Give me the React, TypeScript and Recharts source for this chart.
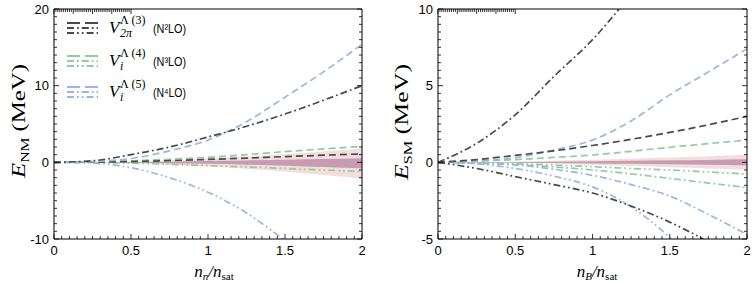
import React from "react";
import { ComposedChart, Line, Area, XAxis, YAxis } from "recharts";

// density grid n / n_sat
const density = [0, 0.25, 0.5, 0.75, 1, 1.25, 1.5, 1.75, 2];

const xMajorTicks = [0, 0.5, 1, 1.5, 2];
const nmMajorTicks = [-10, 0, 10, 20];
const smMajorTicks = [-5, 0, 5, 10];

// neutron matter, E_NM (MeV)
const nmN2Dashed = [0, 0.03, 0.1, 0.22, 0.38, 0.55, 0.75, 0.93, 1.1];
const nmN2DashDot = [0, 0.2, 1.0, 2.0, 3.3, 4.7, 6.3, 8.1, 10.0];
const nmN3Dashed = [0, 0.05, 0.2, 0.4, 0.65, 1.0, 1.4, 1.75, 2.1];
const nmN3DashDotDot = [0, -0.03, -0.1, -0.25, -0.43, -0.6, -0.8, -1.0, -1.2];
const nmN4Dashed = [0, 0.1, 0.5, 1.5, 2.9, 5.3, 8.5, 11.8, 15.4];
const nmN4DashDotDot = [0, -0.1, -0.7, -2.0, -3.9, -6.6, -10.2, -14, -18.5];
const nmBandLightLo = [0, -0.03, -0.13, -0.3, -0.55, -0.85, -1.2, -1.65, -2.1];
const nmBandLightHi = [0, 0.03, 0.12, 0.27, 0.5, 0.75, 1.05, 1.4, 1.8];
const nmBandDarkLo = [0, -0.01, -0.05, -0.12, -0.2, -0.3, -0.43, -0.6, -0.78];
const nmBandDarkHi = [0, 0.01, 0.04, 0.09, 0.17, 0.25, 0.33, 0.42, 0.52];

// symmetric matter, E_SM (MeV)
const smN2Dashed = [0, 0.18, 0.45, 0.75, 1.1, 1.5, 1.95, 2.45, 3.0];
const smN2DashDot = [0, 1.24, 3.1, 5.6, 8.0, 11.0, 14.5, 18, 22];
const smN2DashDotDot = [0, -0.4, -0.93, -1.45, -2.0, -2.85, -3.9, -5.2, -6.8];
const smN3Dashed = [0, 0.08, 0.18, 0.32, 0.48, 0.72, 0.98, 1.22, 1.45];
const smN3DashDot = [0, -0.05, -0.15, -0.3, -0.5, -0.75, -1.05, -1.35, -1.65];
const smN3DashDotDot = [0, -0.03, -0.09, -0.18, -0.28, -0.4, -0.5, -0.63, -0.76];
const smN4Dashed = [0, 0.08, 0.3, 0.8, 1.45, 2.7, 4.4, 5.9, 7.4];
const smN4DashDot = [0, -0.05, -0.17, -0.45, -0.85, -1.45, -2.2, -3.4, -4.7];
const smN4DashDotDot = [0, -0.1, -0.4, -0.9, -1.6, -2.9, -4.9, -7.5, -10.5];
const smBandLightLo = [0, -0.02, -0.05, -0.1, -0.17, -0.24, -0.32, -0.4, -0.48];
const smBandLightHi = [0, 0.02, 0.05, 0.1, 0.17, 0.24, 0.32, 0.4, 0.5];
const smBandDarkLo = [0, -0.01, -0.02, -0.04, -0.07, -0.1, -0.13, -0.16, -0.2];
const smBandDarkHi = [0, 0.01, 0.02, 0.04, 0.07, 0.1, 0.13, 0.16, 0.2];

const C_N2 = "#4a4a4a";
const C_N3 = "#8ccf9e";
const C_N4 = "#9cb7df";
const DASHED = "7 4";
const DASH_DOT = "7 3 1.8 3";
const DASH_DOT_DOT = "7 3 1.8 3 1.8 3";

const SANS = '"Liberation Sans", Arial, sans-serif';
const SERIF = '"Liberation Serif", "Times New Roman", serif';

type Series = { key: string; values: number[]; color: string; dash: string };

const nmSeries: Series[] = [
  { key: "n3d", values: nmN3Dashed, color: C_N3, dash: DASHED },
  { key: "n3ddd", values: nmN3DashDotDot, color: C_N3, dash: DASH_DOT_DOT },
  { key: "n2d", values: nmN2Dashed, color: C_N2, dash: DASHED },
  { key: "n4d", values: nmN4Dashed, color: C_N4, dash: DASHED },
  { key: "n4ddd", values: nmN4DashDotDot, color: C_N4, dash: DASH_DOT_DOT },
  { key: "n2dd", values: nmN2DashDot, color: C_N2, dash: DASH_DOT },
];

const smSeries: Series[] = [
  { key: "n3d", values: smN3Dashed, color: C_N3, dash: DASHED },
  { key: "n3dd", values: smN3DashDot, color: C_N3, dash: DASH_DOT },
  { key: "n3ddd", values: smN3DashDotDot, color: C_N3, dash: DASH_DOT_DOT },
  { key: "n4d", values: smN4Dashed, color: C_N4, dash: DASHED },
  { key: "n4dd", values: smN4DashDot, color: C_N4, dash: DASH_DOT },
  { key: "n4ddd", values: smN4DashDotDot, color: C_N4, dash: DASH_DOT_DOT },
  { key: "n2d", values: smN2Dashed, color: C_N2, dash: DASHED },
  { key: "n2dd", values: smN2DashDot, color: C_N2, dash: DASH_DOT },
  { key: "n2ddd", values: smN2DashDotDot, color: C_N2, dash: DASH_DOT_DOT },
];

function buildRows(series: Series[], lLo: number[], lHi: number[], dLo: number[], dHi: number[]) {
  return density.map((n, i) => {
    const row: any = { n, light: [lLo[i], lHi[i]], dark: [dLo[i], dHi[i]] };
    series.forEach((s) => (row[s.key] = s.values[i]));
    return row;
  });
}

function steps(lo: number, hi: number, step: number) {
  const out: number[] = [];
  const k = Math.round((hi - lo) / step);
  for (let i = 0; i <= k; i++) out.push(+(lo + i * step).toFixed(4));
  return out;
}

const isMajor = (v: number, majors: number[]) => majors.some((m) => Math.abs(m - v) < 1e-6);

function makeTick(side: "bottom" | "top" | "left" | "right", majors: number[]) {
  return (props: any) => {
    const { x, y, payload } = props;
    const v = payload.value;
    const major = isMajor(v, majors);
    const len = major ? 5 : 3;
    if (side === "bottom")
      return (
        <g>
          <line x1={x} x2={x} y1={y} y2={y - len} stroke="#000" strokeWidth={0.8} />
          {major && (
            <text x={x} y={y + 16} textAnchor="middle" fontSize={13} fontFamily={SANS} fill="#000">
              {v}
            </text>
          )}
        </g>
      );
    if (side === "top") return <line x1={x} x2={x} y1={y} y2={y + len} stroke="#000" strokeWidth={0.8} />;
    if (side === "left")
      return (
        <g>
          <line x1={x} x2={x + len} y1={y} y2={y} stroke="#000" strokeWidth={0.8} />
          {major && (
            <text x={x - 5} y={y + 4.5} textAnchor="end" fontSize={13} fontFamily={SANS} fill="#000">
              {v}
            </text>
          )}
        </g>
      );
    return <line x1={x} x2={x - len} y1={y} y2={y} stroke="#000" strokeWidth={0.8} />;
  };
}

function Panel(props: {
  width: number;
  margin: any;
  rows: any[];
  series: Series[];
  yDomain: [number, number];
  yMajors: number[];
  yMinorStep: number;
}) {
  const { width, margin, rows, series, yDomain, yMajors, yMinorStep } = props;
  const xTicks = steps(0, 2, 0.05);
  const yTicks = steps(yDomain[0], yDomain[1], yMinorStep);
  const axisCommon = { tickLine: false, tickSize: 0, tickMargin: 0, interval: 0 as const, axisLine: { stroke: "#000" } };
  return (
    <ComposedChart width={width} height={282} data={rows} margin={margin}>
      <XAxis {...axisCommon} dataKey="n" type="number" domain={[0, 2]} ticks={xTicks} height={30} allowDataOverflow tick={makeTick("bottom", xMajorTicks)} />
      <XAxis {...axisCommon} xAxisId="top" orientation="top" type="number" domain={[0, 2]} ticks={xTicks} height={2} allowDataOverflow tick={makeTick("top", xMajorTicks)} />
      <YAxis {...axisCommon} type="number" domain={yDomain} ticks={yTicks} width={30} allowDataOverflow tick={makeTick("left", yMajors)} />
      <YAxis {...axisCommon} yAxisId="right" orientation="right" type="number" domain={yDomain} ticks={yTicks} width={2} allowDataOverflow tick={makeTick("right", yMajors)} />
      <Area dataKey="light" type="monotone" stroke="none" fill="#f3dddd" fillOpacity={1} isAnimationActive={false} activeDot={false} />
      <Area dataKey="dark" type="monotone" stroke="none" fill="#c79bb2" fillOpacity={1} isAnimationActive={false} activeDot={false} />
      {series.map((s) => (
        <Line
          key={s.key}
          dataKey={s.key}
          type="monotone"
          stroke={s.color}
          strokeWidth={1.7}
          strokeDasharray={s.dash}
          dot={false}
          activeDot={false}
          isAnimationActive={false}
        />
      ))}
    </ComposedChart>
  );
}

const legendRows = [
  { color: C_N2, sub: "2π", order: "(N²LO)", y: 33 },
  { color: C_N3, sub: "i", order: "(N³LO)", y: 66 },
  { color: C_N4, sub: "i", order: "(N⁴LO)", y: 97 },
];
const legendSup = ["Λ (3)", "Λ (4)", "Λ (5)"];

function Overlay() {
  return (
    <svg width={753} height={282} style={{ position: "absolute", left: 0, top: 0, pointerEvents: "none" }}>
      <text transform="translate(25,121) rotate(-90)" textAnchor="middle" fontFamily={SERIF} fontSize={19} fill="#000" textLength={114} lengthAdjust="spacingAndGlyphs">
        <tspan fontStyle="italic">E</tspan>
        <tspan fontSize={12} dy={4}>NM</tspan>
        <tspan dy={-4}> (MeV)</tspan>
      </text>
      <text transform="translate(408,122) rotate(-90)" textAnchor="middle" fontFamily={SERIF} fontSize={19} fill="#000" textLength={116} lengthAdjust="spacingAndGlyphs">
        <tspan fontStyle="italic">E</tspan>
        <tspan fontSize={12} dy={4}>SM</tspan>
        <tspan dy={-4}> (MeV)</tspan>
      </text>
      <text x={214} y={277} textAnchor="middle" fontFamily={SERIF} fontSize={17} fill="#000">
        <tspan fontStyle="italic">n</tspan>
        <tspan fontStyle="italic" fontSize={11} dy={3}>n</tspan>
        <tspan fontStyle="italic" dy={-3}>/n</tspan>
        <tspan fontSize={11} dy={3}>sat</tspan>
      </text>
      <text x={597} y={277} textAnchor="middle" fontFamily={SERIF} fontSize={17} fill="#000">
        <tspan fontStyle="italic">n</tspan>
        <tspan fontStyle="italic" fontSize={11} dy={3}>B</tspan>
        <tspan fontStyle="italic" dy={-3}>/n</tspan>
        <tspan fontSize={11} dy={3}>sat</tspan>
      </text>
      {legendRows.map((r, i) => (
        <g key={i}>
          <line x1={67} x2={98} y1={r.y - 10} y2={r.y - 10} stroke={r.color} strokeWidth={2} strokeDasharray="13 5" />
          <line x1={67} x2={98} y1={r.y - 5} y2={r.y - 5} stroke={r.color} strokeWidth={2} strokeDasharray={DASH_DOT} />
          <line x1={67} x2={98} y1={r.y} y2={r.y} stroke={r.color} strokeWidth={2} strokeDasharray={DASH_DOT_DOT} />
          <text x={109} y={r.y} fontFamily={SERIF} fontSize={17} fontStyle="italic" fill="#000">V</text>
          <text x={120} y={r.y - 9} fontFamily={SERIF} fontSize={12} fill="#000">{legendSup[i]}</text>
          <text x={120} y={r.y + 4} fontFamily={SERIF} fontSize={12} fontStyle="italic" fill="#000">{r.sub}</text>
          <text x={153} y={r.y} fontFamily={SANS} fontSize={13.5} fill="#000" textLength={33} lengthAdjust="spacingAndGlyphs">{r.order}</text>
        </g>
      ))}
    </svg>
  );
}

export default function App() {
  const nmRows = buildRows(nmSeries, nmBandLightLo, nmBandLightHi, nmBandDarkLo, nmBandDarkHi);
  const smRows = buildRows(smSeries, smBandLightLo, smBandLightHi, smBandDarkLo, smBandDarkHi);
  return (
    <div style={{ position: "absolute", left: 0, top: 0, width: 753, height: 282, background: "#fff" }}>
      <div style={{ position: "absolute", left: 0, top: 0 }}>
        <Panel width={376} margin={{ top: 7, right: 12, bottom: 13, left: 24 }} rows={nmRows} series={nmSeries} yDomain={[-10, 20]} yMajors={nmMajorTicks} yMinorStep={1} />
      </div>
      <div style={{ position: "absolute", left: 376, top: 0 }}>
        <Panel width={377} margin={{ top: 7, right: 4, bottom: 13, left: 32 }} rows={smRows} series={smSeries} yDomain={[-5, 10]} yMajors={smMajorTicks} yMinorStep={0.5} />
      </div>
      <Overlay />
    </div>
  );
}
